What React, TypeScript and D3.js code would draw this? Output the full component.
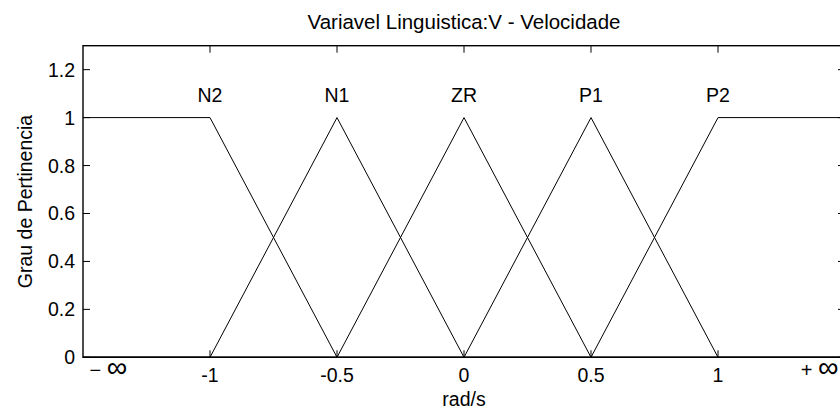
import React from "react";
import * as d3 from "d3";

// Fuzzy sets of the linguistic variable V (velocity), each as [x, membership] breakpoints
const setNames = ["N2", "N1", "ZR", "P1", "P2"];
const setPeaks = [-1, -0.5, 0, 0.5, 1];
const setBreakX = [
  [-1.5, -1, -0.5, 1.5],
  [-1.5, -1, -0.5, 0, 1.5],
  [-1.5, -0.5, 0, 0.5, 1.5],
  [-1.5, 0, 0.5, 1, 1.5],
  [-1.5, 0.5, 1, 1.5],
];
const setBreakY = [
  [1, 1, 0, 0],
  [0, 0, 1, 0, 0],
  [0, 0, 1, 0, 0],
  [0, 0, 1, 0, 0],
  [0, 0, 1, 1],
];
const xTicks = [-1, -0.5, 0, 0.5, 1];
const xTickLabels = ["-1", "-0.5", "0", "0.5", "1"];
const yTicks = [0, 0.2, 0.4, 0.6, 0.8, 1, 1.2];
const infinityX = [-1.4, 1.4];
const infinitySigns = ["−", "+"];
const title = "Variavel Linguistica:V - Velocidade";
const xLabel = "rad/s";
const yLabel = "Grau de Pertinencia";

const W = 840;
const H = 412;
const left = 83;
const right = 845;
const top = 45.7;
const bottom = 357.3;
const font = "'Liberation Sans', Arial, sans-serif";
const fs = 19.5;

export default function App() {
  const x = d3.scaleLinear().domain([-1.5, 1.5]).range([left, right]);
  const y = d3.scaleLinear().domain([0, 1.3]).range([bottom, top]);
  const line = d3
    .line<[number, number]>()
    .x((d) => x(d[0]))
    .y((d) => y(d[1]));
  const tick = 7;

  return (
    <svg
      width={W}
      height={H}
      style={{ position: "fixed", left: 0, top: 0, background: "#fff" }}
      fontFamily={font}
    >
      <rect width={W} height={H} fill="#fff" />
      {/* membership functions */}
      <g fill="none" stroke="#000" strokeWidth={1}>
        {setBreakX.map((xs, i) => (
          <path
            key={setNames[i]}
            d={line(xs.map((v, j) => [v, setBreakY[i][j]]) as [number, number][]) || ""}
          />
        ))}
      </g>
      {/* set labels */}
      {setNames.map((n, i) => (
        <text key={n} x={x(setPeaks[i])} y={102} fontSize={fs} textAnchor="middle">
          {n}
        </text>
      ))}
      {/* axes box */}
      <rect
        x={left}
        y={top}
        width={right - left}
        height={bottom - top}
        fill="none"
        stroke="#000"
        strokeWidth={1.4}
      />
      <g stroke="#000" strokeWidth={1}>
        {xTicks.map((t) => (
          <g key={t}>
            <line x1={x(t)} x2={x(t)} y1={bottom} y2={bottom - tick} />
            <line x1={x(t)} x2={x(t)} y1={top} y2={top + tick} />
          </g>
        ))}
        {yTicks.map((t) => (
          <g key={t}>
            <line x1={left} x2={left + tick} y1={y(t)} y2={y(t)} />
            <line x1={right} x2={right - tick} y1={y(t)} y2={y(t)} />
          </g>
        ))}
      </g>
      {xTicks.map((t, i) => (
        <text key={t} x={x(t)} y={382} fontSize={fs} textAnchor="middle">
          {xTickLabels[i]}
        </text>
      ))}
      {infinityX.map((v, i) => (
        <text key={v} x={x(v)} y={377} textAnchor="middle">
          <tspan fontSize={20}>{infinitySigns[i]}</tspan>
          <tspan fontSize={20}> </tspan>
          <tspan fontSize={29}>∞</tspan>
        </text>
      ))}
      {yTicks.map((t) => (
        <text
          key={t}
          x={left - 8}
          y={y(t)}
          fontSize={fs}
          textAnchor="end"
          dominantBaseline="central"
        >
          {String(t)}
        </text>
      ))}
      <text x={(left + right) / 2} y={29} fontSize={20.5} textAnchor="middle">
        {title}
      </text>
      <text x={(left + right) / 2} y={406} fontSize={fs} textAnchor="middle">
        {xLabel}
      </text>
      <text
        transform={`translate(32,${(top + bottom) / 2}) rotate(-90)`}
        fontSize={fs}
        textAnchor="middle"
      >
        {yLabel}
      </text>
    </svg>
  );
}
